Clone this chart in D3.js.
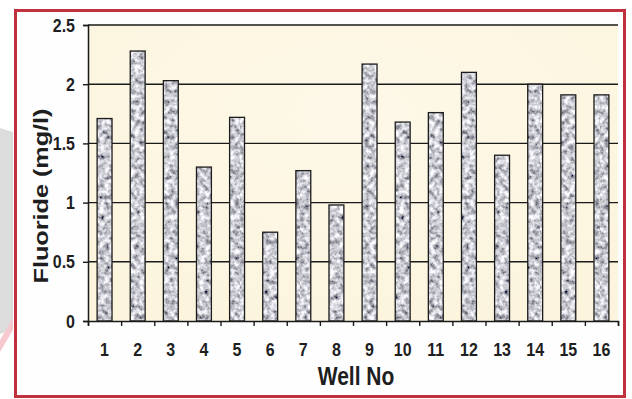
<!DOCTYPE html>
<html>
<head>
<meta charset="utf-8">
<script src="https://cdn.jsdelivr.net/npm/d3@7"></script>
<style>
  html, body { margin: 0; padding: 0; background: #ffffff; }
  svg { display: block; }
  text { font-family: "Liberation Sans", Arial, sans-serif; font-weight: bold; fill: #1e1e1e; }
</style>
</head>
<body>
<svg id="chart" width="632" height="399"></svg>
<script>
// Fluoride concentration measured in each well
const wells = ["1","2","3","4","5","6","7","8","9","10","11","12","13","14","15","16"];
const fluoride = [1.71, 2.28, 2.03, 1.30, 1.72, 0.75, 1.27, 0.98, 2.17, 1.68, 1.76, 2.10, 1.40, 2.00, 1.91, 1.91];
const yTicks = [0, 0.5, 1, 1.5, 2, 2.5];
const yTickLabels = ["0", "0.5", "1", "1.5", "2", "2.5"];
const xTitle = "Well No";
const yTitle = "Fluoride (mg/l)";

const svg = d3.select("#chart");
const plot = { left: 88, right: 618, top: 25, bottom: 321 };
const stretch = 1.2; // tall lettering

const defs = svg.append("defs");

// mottled grey texture for the bars
const f = defs.append("filter").attr("id", "grain")
  .attr("x", 0).attr("y", 0).attr("width", 1).attr("height", 1);
f.append("feTurbulence").attr("type", "fractalNoise")
  .attr("baseFrequency", "0.2").attr("numOctaves", 3).attr("seed", 7).attr("result", "n");
f.append("feColorMatrix").attr("type", "matrix")
  .attr("values", "1.6 0 0 0 -0.2  1.6 0 0 0 -0.2  1.6 0 0 0 -0.15  0 0 0 0 1");
const pat = defs.append("pattern").attr("id", "tex")
  .attr("patternUnits", "userSpaceOnUse").attr("width", 60).attr("height", 320);
pat.append("rect").attr("width", 60).attr("height", 320).attr("fill", "#aaa")
  .attr("filter", "url(#grain)");

// soft cream wash for the plot area
const bg = defs.append("radialGradient").attr("id", "cream")
  .attr("cx", "50%").attr("cy", "30%").attr("r", "80%");
bg.append("stop").attr("offset", "0%").attr("stop-color", "#fdf8e8");
bg.append("stop").attr("offset", "100%").attr("stop-color", "#fcf4dc");

// faint background shapes at the left margin
svg.append("path").attr("d", "M0,128 L13,132 L13,330 L0,334 Z").attr("fill", "#dcdcdc");
svg.append("path").attr("d", "M0,340 L13,318 L13,330 L0,352 Z").attr("fill", "#f6c9cf");

// outer frame
svg.append("rect").attr("x", 15.5).attr("y", 10.5).attr("width", 609).attr("height", 386)
  .attr("fill", "#fefefe").attr("stroke", "#c0313d").attr("stroke-width", 3);

// scales
const x = d3.scaleBand().domain(wells).range([plot.left, plot.right])
  .paddingInner(0.55).paddingOuter(0.275);
const xEdge = d3.scaleLinear().domain([0, wells.length]).range([plot.left, plot.right]);
const y = d3.scaleLinear().domain([0, 2.5]).range([plot.bottom, plot.top]);

svg.append("rect").attr("x", plot.left).attr("y", plot.top)
  .attr("width", plot.right - plot.left).attr("height", plot.bottom - plot.top)
  .attr("fill", "url(#cream)");

// horizontal gridlines
svg.append("g").selectAll("line").data(yTicks.filter(d => d > 0)).join("line")
  .attr("x1", plot.left).attr("x2", plot.right)
  .attr("y1", d => y(d)).attr("y2", d => y(d))
  .attr("stroke", "#1a1a1a").attr("stroke-width", 1.4);

// bars
svg.append("g").selectAll("rect").data(fluoride).join("rect")
  .attr("x", (d, i) => x(wells[i]))
  .attr("y", d => y(d))
  .attr("width", x.bandwidth())
  .attr("height", d => y(0) - y(d))
  .attr("fill", "url(#tex)")
  .attr("stroke", "#1c1c1c").attr("stroke-width", 1.3);

// y axis
const yAxis = svg.append("g").attr("transform", `translate(${plot.left},0)`)
  .call(d3.axisLeft(y).tickValues(yTicks).tickSize(5).tickPadding(8)
    .tickFormat((d, i) => yTickLabels[i]));
yAxis.attr("font-size", null).attr("font-family", null);
yAxis.select(".domain").attr("stroke", "#1a1a1a").attr("stroke-width", 1.5);
yAxis.selectAll(".tick line").attr("stroke", "#1a1a1a").attr("stroke-width", 1.4);
yAxis.selectAll(".tick text").style("font-size", "16px").attr("fill", "#1e1e1e")
  .attr("transform", `scale(1,${stretch})`);

// x axis: tick marks at category edges
const xTickAxis = svg.append("g").attr("transform", `translate(0,${plot.bottom})`)
  .call(d3.axisBottom(xEdge).tickValues(d3.range(wells.length + 1)).tickSize(5).tickFormat(""));
xTickAxis.select(".domain").attr("stroke", "#1a1a1a").attr("stroke-width", 1.5);
xTickAxis.selectAll(".tick line").attr("stroke", "#1a1a1a").attr("stroke-width", 1.4);

// x axis: labels under each bar
const xLab = svg.append("g").attr("transform", `translate(0,${plot.bottom})`)
  .call(d3.axisBottom(x).tickSize(0));
xLab.attr("font-size", null).attr("font-family", null);
xLab.select(".domain").remove();
xLab.selectAll(".tick text").style("font-size", "16px").attr("fill", "#1e1e1e")
  .attr("y", 35 / stretch).attr("dy", 0)
  .attr("transform", `scale(1,${stretch})`);

// axis titles
svg.append("text").attr("transform", `translate(356,385) scale(1,${stretch})`)
  .attr("text-anchor", "middle").style("font-size", "21px").text(xTitle);
svg.append("text").attr("transform", `translate(48,196) rotate(-90) scale(${stretch},1)`)
  .attr("text-anchor", "middle").style("font-size", "21px").text(yTitle);
</script>
</body>
</html>
